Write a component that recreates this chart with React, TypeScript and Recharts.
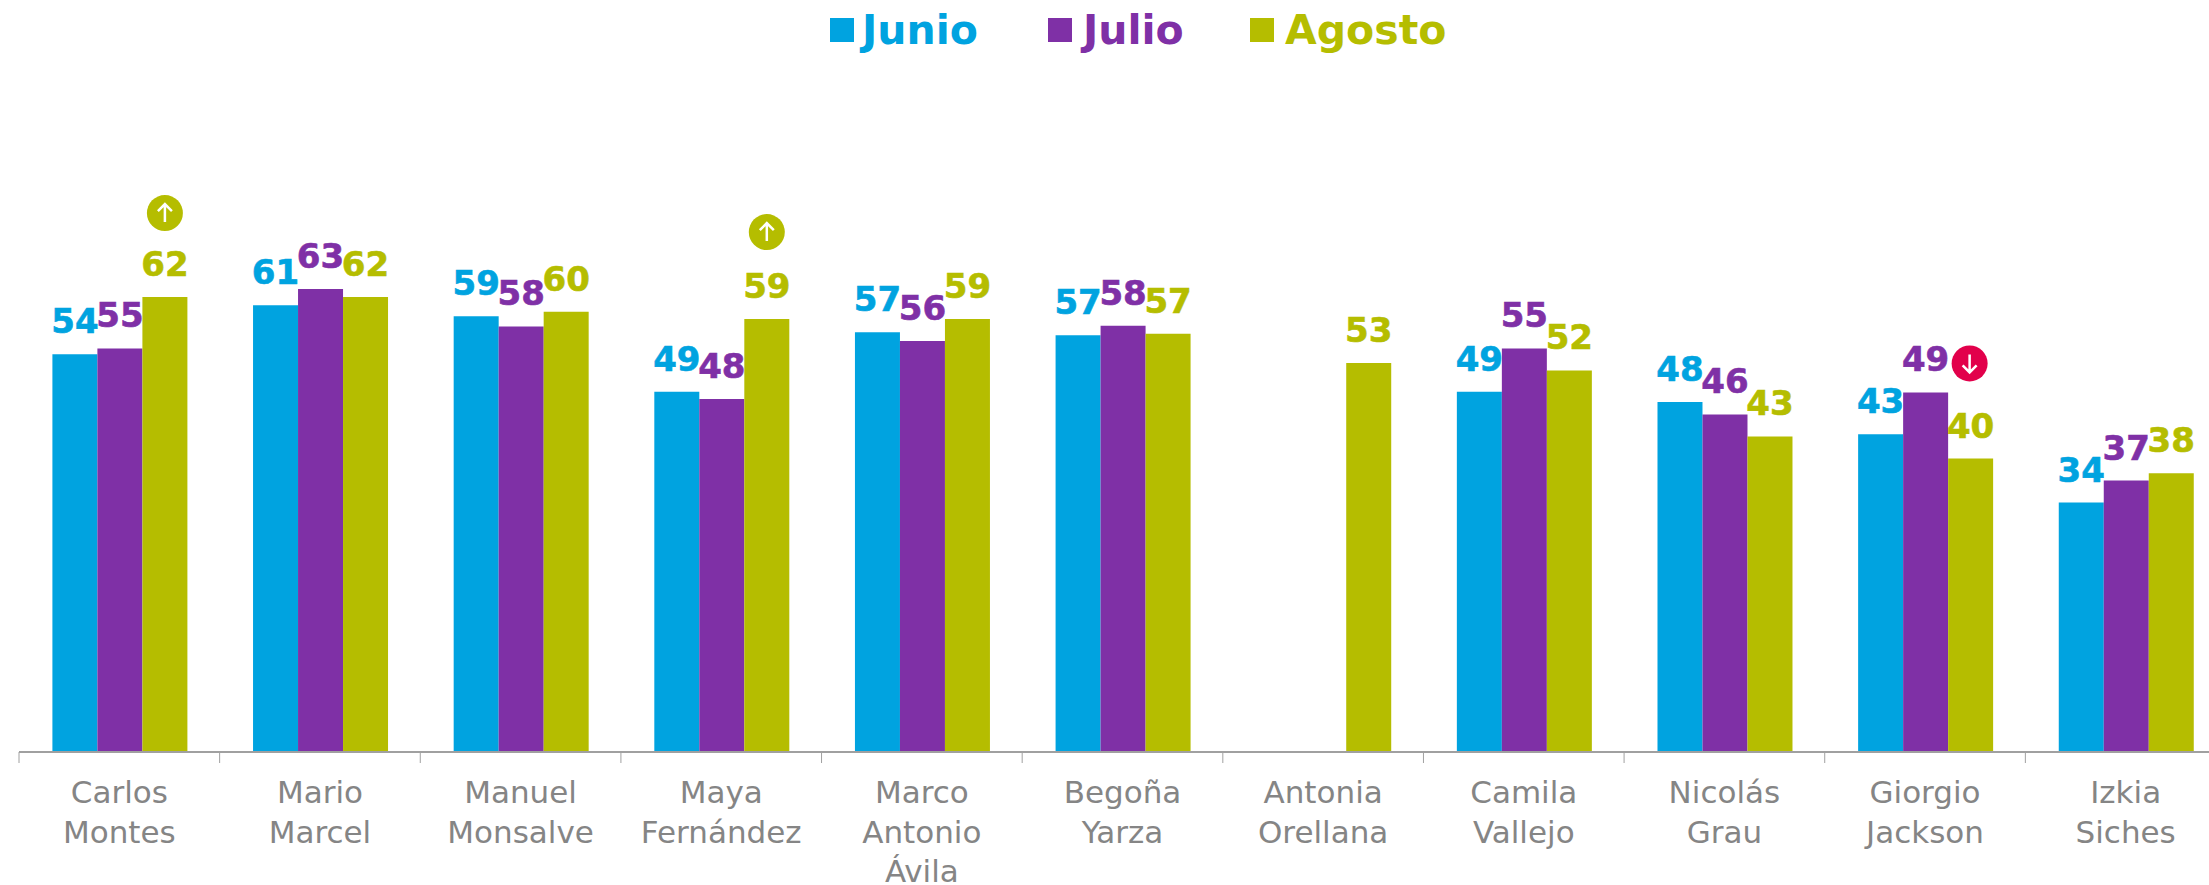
// Approval by person, grouped bars for three months
import { BarChart, Bar, XAxis, YAxis, LabelList, Legend } from "recharts"

const names = [
  "Carlos Montes", "Mario Marcel", "Manuel Monsalve", "Maya Fernández", "Marco Antonio Ávila", "Begoña Yarza",
  "Antonia Orellana", "Camila Vallejo", "Nicolás Grau", "Giorgio Jackson", "Izkia Siches",
]
const junio = [54.2, 60.9, 59.4, 49.1, 57.2, 56.8, null, 49.1, 47.7, 43.3, 34]
const julio = [55, 63.1, 58, 48.1, 56, 58.1, null, 55, 46, 49, 37]
const agosto = [62, 62, 60, 59, 59, 57, 53, 52, 43, 40, 38]

const chartData = names.map((name, i) => ({ name, Junio: junio[i], Julio: julio[i], Agosto: agosto[i] }))

const BLUE = "#00A3E0"
const PURPLE = "#7F30A6"
const OLIVE = "#B5BD00"
const RED = "#E2004B"
const GRAY = "#858585"
const AXIS = "#A0A0A0"
const FONT = "'DejaVu Sans', sans-serif"

const CHART_W = 2226
const LEFT = 19
const STEP = (CHART_W - LEFT) / names.length
const legendLeft = [830, 1048, 1250]
const legendGap = [8, 11, 11]
const legendOrder = ["Junio", "Julio", "Agosto"]

function Badge({ cx, cy, up, fill }: any) {
  const d = up ? -1 : 1
  return (
    <g>
      <circle cx={cx} cy={cy} r={18} fill={fill} />
      <path
        d={`M${cx} ${cy - d * 9}V${cy + d * 9}M${cx - 7} ${cy + d * 2}L${cx} ${cy + d * 9}L${cx + 7} ${cy + d * 2}`}
        stroke="#fff"
        strokeWidth={2.5}
        fill="none"
      />
    </g>
  )
}

// value label above the bar, plus the trend badge for the few flagged people
const makeLabel = (color: string, series: string) => (props: any) => {
  const { x, y, width, value } = props
  if (value === null || value === undefined) return null
  const cx = x + width / 2
  // LabelList skips the empty bars, so its index can't be trusted here
  const who = names[Math.floor((x - LEFT) / STEP)]
  return (
    <g>
      <text x={cx} y={y - 21} textAnchor="middle" fill={color} stroke={color} strokeWidth={0.6} fontFamily={FONT} fontWeight={700} fontSize={34}>
        {Math.round(value)}
      </text>
      {series === "Agosto" && who === "Carlos Montes" && <Badge cx={cx} cy={y - 84} up fill={OLIVE} />}
      {series === "Agosto" && who === "Maya Fernández" && <Badge cx={cx} cy={y - 87} up fill={OLIVE} />}
      {series === "Julio" && who === "Giorgio Jackson" && <Badge cx={cx + 44} cy={y - 29} up={false} fill={RED} />}
    </g>
  )
}

function NameTick({ x, y, payload }: any) {
  const lines = String(payload.value).split(" ")
  return (
    <g>
      <line x1={x - STEP / 2} x2={x - STEP / 2} y1={y - 8} y2={y + 3} stroke={AXIS} strokeWidth={1} />
      <text textAnchor="middle" fill={GRAY} fontFamily={FONT} fontSize={31}>
        {lines.map((l, i) => (
          <tspan key={i} x={x} y={y + 43 + i * 39.5}>{l}</tspan>
        ))}
      </text>
    </g>
  )
}

function TopLegend({ payload }: any) {
  return (
    <div style={{ position: "relative", height: 64, width: CHART_W }}>
      {(payload || []).map((entry: any, i: number) => (
        <div key={entry.value} style={{ position: "absolute", left: legendLeft[i], top: -2, display: "flex", alignItems: "center", height: 64 }}>
          <span style={{ width: 24, height: 24, background: entry.color, marginRight: legendGap[i] }} />
          <span style={{ color: entry.color, fontFamily: FONT, fontWeight: 700, fontSize: 41 }}>{entry.value}</span>
        </div>
      ))}
    </div>
  )
}

export default function App() {
  return (
    <div style={{ position: "absolute", left: 0, top: 0, width: 2209, height: 885, overflow: "hidden", background: "#fff" }}>
      <BarChart
        width={CHART_W}
        height={885}
        data={chartData}
        margin={{ top: 101, right: 0, left: LEFT, bottom: 0 }}
        barCategoryGap={33.4}
        barGap={0}
      >
        <XAxis
          dataKey="name"
          height={133}
          interval={0}
          tick={<NameTick />}
          tickLine={false}
          axisLine={{ stroke: AXIS, strokeWidth: 2 }}
        />
        <YAxis hide domain={[0, 80]} />
        <Legend
          verticalAlign="top"
          content={<TopLegend />}
          itemSorter={(item: any) => legendOrder.indexOf(item.value)}
          wrapperStyle={{ left: 0, top: 0, width: CHART_W }}
        />
        <Bar dataKey="Junio" fill={BLUE} isAnimationActive={false}>
          <LabelList dataKey="Junio" content={makeLabel(BLUE, "Junio")} />
        </Bar>
        <Bar dataKey="Julio" fill={PURPLE} isAnimationActive={false}>
          <LabelList dataKey="Julio" content={makeLabel(PURPLE, "Julio")} />
        </Bar>
        <Bar dataKey="Agosto" fill={OLIVE} isAnimationActive={false}>
          <LabelList dataKey="Agosto" content={makeLabel(OLIVE, "Agosto")} />
        </Bar>
      </BarChart>
    </div>
  )
}
